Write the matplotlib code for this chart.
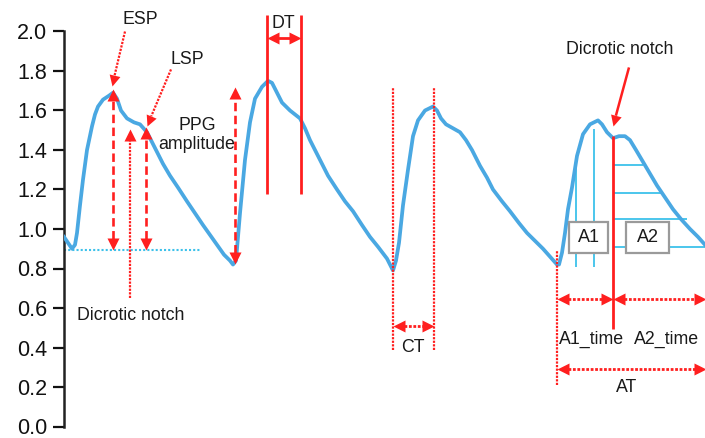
import numpy as np
import matplotlib
matplotlib.use("Agg")
import matplotlib.pyplot as plt
from matplotlib.path import Path
from matplotlib.markers import MarkerStyle
from matplotlib.patches import Rectangle

plt.rcParams['font.family'] = ['Liberation Sans', 'DejaVu Sans']

# ---------------- data: PPG waveform (x = sample position, y = amplitude) ----------------
ppg_x = [64, 68, 72, 75, 77, 80, 83, 87, 92, 95, 98, 103, 109, 113, 117, 121, 127, 134, 140, 147,
         152, 157, 163, 170, 178, 187, 195, 203, 210, 217, 224, 230, 233,
         236, 240, 245, 250, 255, 262, 268, 272, 276, 282, 290, 300, 305, 310, 320, 328, 337, 345,
         353, 362, 370, 378, 387, 393,
         396, 399, 403, 408, 413, 418, 425, 433, 437, 441, 446, 453, 460, 466, 472, 480, 487, 493,
         502, 510, 519, 527, 535, 543, 550, 557,
         559, 562, 565, 568, 572, 577, 583, 590, 598, 602, 607, 613, 619, 625, 630, 636, 643, 650,
         657, 665, 673, 681, 690, 698, 705]
ppg_y = [0.96, 0.93, 0.90, 0.92, 0.98, 1.12, 1.25, 1.40, 1.52, 1.58, 1.62, 1.655, 1.675, 1.69, 1.66,
         1.60, 1.56, 1.54, 1.53, 1.49, 1.44, 1.39, 1.33, 1.27, 1.21, 1.14, 1.08, 1.02, 0.97, 0.92,
         0.87, 0.84, 0.82,
         0.84, 1.08, 1.35, 1.54, 1.66, 1.72, 1.75, 1.74, 1.70, 1.64, 1.60, 1.56, 1.51, 1.45, 1.35,
         1.27, 1.20, 1.14, 1.09, 1.02, 0.96, 0.91, 0.85, 0.79,
         0.84, 0.93, 1.12, 1.30, 1.47, 1.55, 1.60, 1.62, 1.60, 1.56, 1.53, 1.51, 1.49, 1.45, 1.40,
         1.32, 1.26, 1.20, 1.14, 1.09, 1.03, 0.98, 0.94, 0.90, 0.86, 0.82,
         0.82, 0.88, 0.98, 1.10, 1.21, 1.37, 1.48, 1.53, 1.55, 1.53, 1.49, 1.46, 1.47, 1.47, 1.45,
         1.40, 1.34, 1.28, 1.22, 1.16, 1.10, 1.05, 1.00, 0.96, 0.92]

y_ticks = [0.0, 0.2, 0.4, 0.6, 0.8, 1.0, 1.2, 1.4, 1.6, 1.8, 2.0]

# feature positions (x) and levels (y)
baseline_y = 0.894
esp_x, esp_y = 113, 1.71
lsp_x, lsp_y = 146, 1.515
notch1_x, notch1_y = 130, 1.505
amp2_x, amp2_top, amp2_bot = 235, 1.717, 0.823
dt_x = [267, 301]
ct_x = [393, 434]
a_start_x, notch4_x, a_end_x = 557, 613, 705
a1_vlines = [(576, 1.328), (594, 1.505)]
a2_hlines = [(1.323, 643), (1.182, 661), (1.05, 687), (0.909, 705)]

RED = '#FF1F1F'
BLUE = '#4AA8E2'
CYAN = '#3DC1EA'
TXT = '#1a1a1a'

Y0_PX, PX_PER_UNIT = 426.5, 197.5   # pixel row of y=0 and pixels per unit

fig = plt.figure(figsize=(7.05, 4.38), dpi=100)
ax = fig.add_axes([64 / 705, 0, 641 / 705, 1])
ax.set_xlim(64, 705)
ax.set_ylim((Y0_PX - 438) / PX_PER_UNIT, Y0_PX / PX_PER_UNIT)

HEAD_LEN = 12.0  # px

def tri(angle):
    v = np.array([(0, 0), (-0.5, -1), (0.5, -1), (0, 0)])
    a = np.deg2rad(angle)
    R = np.array([[np.cos(a), -np.sin(a)], [np.sin(a), np.cos(a)]])
    v = v @ R.T
    return MarkerStyle(Path(v, [Path.MOVETO, Path.LINETO, Path.LINETO, Path.CLOSEPOLY]))

def head_at(p_tip, p_from):
    T = ax.transData
    d0 = np.array(T.transform(p_from)); d1 = np.array(T.transform(p_tip))
    v = d1 - d0
    ang = np.degrees(np.arctan2(-v[0], v[1]))
    ax.plot([p_tip[0]], [p_tip[1]], marker=tri(ang), markersize=HEAD_LEN * 2 * 72 / 100,
            color=RED, mec=RED, mew=0, linestyle='none', clip_on=False, zorder=6)
    u = v / np.linalg.norm(v)
    back = d1 - u * (HEAD_LEN - 1)
    return tuple(T.inverted().transform(back))

def arrow(p0, p1, ls, lw=2.0, start=False, end=True, color=RED):
    a, b = p0, p1
    if end:
        b = head_at(p1, p0)
    if start:
        a = head_at(p0, p1)
    ax.plot([a[0], b[0]], [a[1], b[1]], color=color, linestyle=ls, lw=lw, zorder=4,
            clip_on=False, solid_capstyle='butt', dash_capstyle='butt')

def line(p0, p1, ls, lw=2.0, color=RED, z=4):
    ax.plot([p0[0], p1[0]], [p0[1], p1[1]], color=color, linestyle=ls, lw=lw, zorder=z,
            clip_on=False, solid_capstyle='butt', dash_capstyle='butt')

DASH = (0, (3.2, 1.7))
DOT = (0, (1, 0.6))

# baseline
line((64, baseline_y), (200, baseline_y), (0, (1, 1)), lw=1.5, color=CYAN, z=2)

# A1 / A2 cyan lines
for x, ytop in a1_vlines:
    line((x, 0.808), (x, ytop), '-', lw=1.3, color=CYAN, z=2)
for yy, xe in a2_hlines:
    line((notch4_x, yy), (xe, yy), '-', lw=1.3, color=CYAN, z=2)

# waveform
ax.plot(ppg_x, ppg_y, color=BLUE, lw=2.7, zorder=3, solid_joinstyle='round')

# ESP / LSP / amplitude double arrows
arrow((esp_x, baseline_y), (esp_x, esp_y), DASH, lw=1.9, start=True)
arrow((lsp_x, baseline_y), (lsp_x, lsp_y), DASH, lw=1.9, start=True)
arrow((notch1_x, 0.65), (notch1_x, notch1_y), DOT, lw=1.6)
arrow((amp2_x, amp2_bot), (amp2_x, amp2_top), DASH, lw=1.9, start=True)

# pointers
arrow((125, 2.0), (112, 1.722), DOT, lw=1.6)
arrow((171, 1.808), (147, 1.52), DOT, lw=1.6)
arrow((629, 1.818), (613, 1.52), '-', lw=1.8)

# DT
for x in dt_x:
    line((x, 1.177), (x, 2.086), '-', lw=2.0)
arrow((dt_x[0], 1.965), (dt_x[1], 1.965), '-', lw=2.0, start=True)

# CT
for x in ct_x:
    line((x, 0.389), (x, 1.717), DOT, lw=1.6)
arrow((ct_x[0], 0.51), (ct_x[1], 0.51), DOT, lw=2.0, start=True)

# A1 / A2 time and AT
line((notch4_x, 0.495), (notch4_x, 1.47), '-', lw=2.0)
line((a_start_x, 0.212), (a_start_x, 0.889), DOT, lw=1.6)
arrow((a_start_x, 0.646), (notch4_x, 0.646), DOT, lw=2.0, start=True)
arrow((notch4_x, 0.646), (a_end_x + 1, 0.646), DOT, lw=2.0, start=True)
arrow((a_start_x, 0.293), (a_end_x + 1, 0.293), DOT, lw=2.0, start=True)

# boxes (A1, A2)
for x0, x1, lab in [(569, 608, 'A1'), (626, 669, 'A2')]:
    yb, yt = (Y0_PX - 253) / PX_PER_UNIT, (Y0_PX - 222) / PX_PER_UNIT
    ax.add_patch(Rectangle((x0, yb), x1 - x0, yt - yb, fc='white', ec='#9a9a9a', lw=1.6,
                           zorder=7))
    ax.text((x0 + x1) / 2, (yb + yt) / 2, lab, ha='center', va='center', fontsize=13,
            color=TXT, zorder=8)

def py(p):
    return (Y0_PX - p) / PX_PER_UNIT

# texts
fs = 12.8
ax.text(140, py(20), 'ESP', ha='center', va='center', fontsize=fs, color=TXT)
ax.text(187, py(60), 'LSP', ha='center', va='center', fontsize=fs, color=TXT)
ax.text(197, py(135), 'PPG\namplitude', ha='center', va='center', fontsize=fs, color=TXT,
        linespacing=1.15)
ax.text(131, py(315), 'Dicrotic notch', ha='center', va='center', fontsize=fs, color=TXT)
ax.text(283, py(24), 'DT', ha='center', va='center', fontsize=fs, color=TXT)
ax.text(413, py(348), 'CT', ha='center', va='center', fontsize=fs, color=TXT)
ax.text(620, py(50), 'Dicrotic notch', ha='center', va='center', fontsize=fs, color=TXT)
ax.text(592, py(339), 'A1_time', ha='center', va='center', fontsize=fs, color=TXT)
ax.text(667, py(339), 'A2_time', ha='center', va='center', fontsize=fs, color=TXT)
ax.text(627, py(388), 'AT', ha='center', va='center', fontsize=fs, color=TXT)

# axes styling
for s in ['top', 'right', 'bottom']:
    ax.spines[s].set_visible(False)
ax.spines['left'].set_bounds(0, 2.0)
ax.spines['left'].set_linewidth(1.8)
ax.spines['left'].set_color('#222222')
ax.set_xticks([])
ax.set_yticks(y_ticks)
ax.set_yticklabels([f'{t:.1f}' for t in y_ticks])
ax.tick_params(axis='y', length=8, width=1.6, pad=4, labelsize=15.5, colors='#111111')
ax.patch.set_alpha(0)

fig.savefig('out.png', dpi=100)
